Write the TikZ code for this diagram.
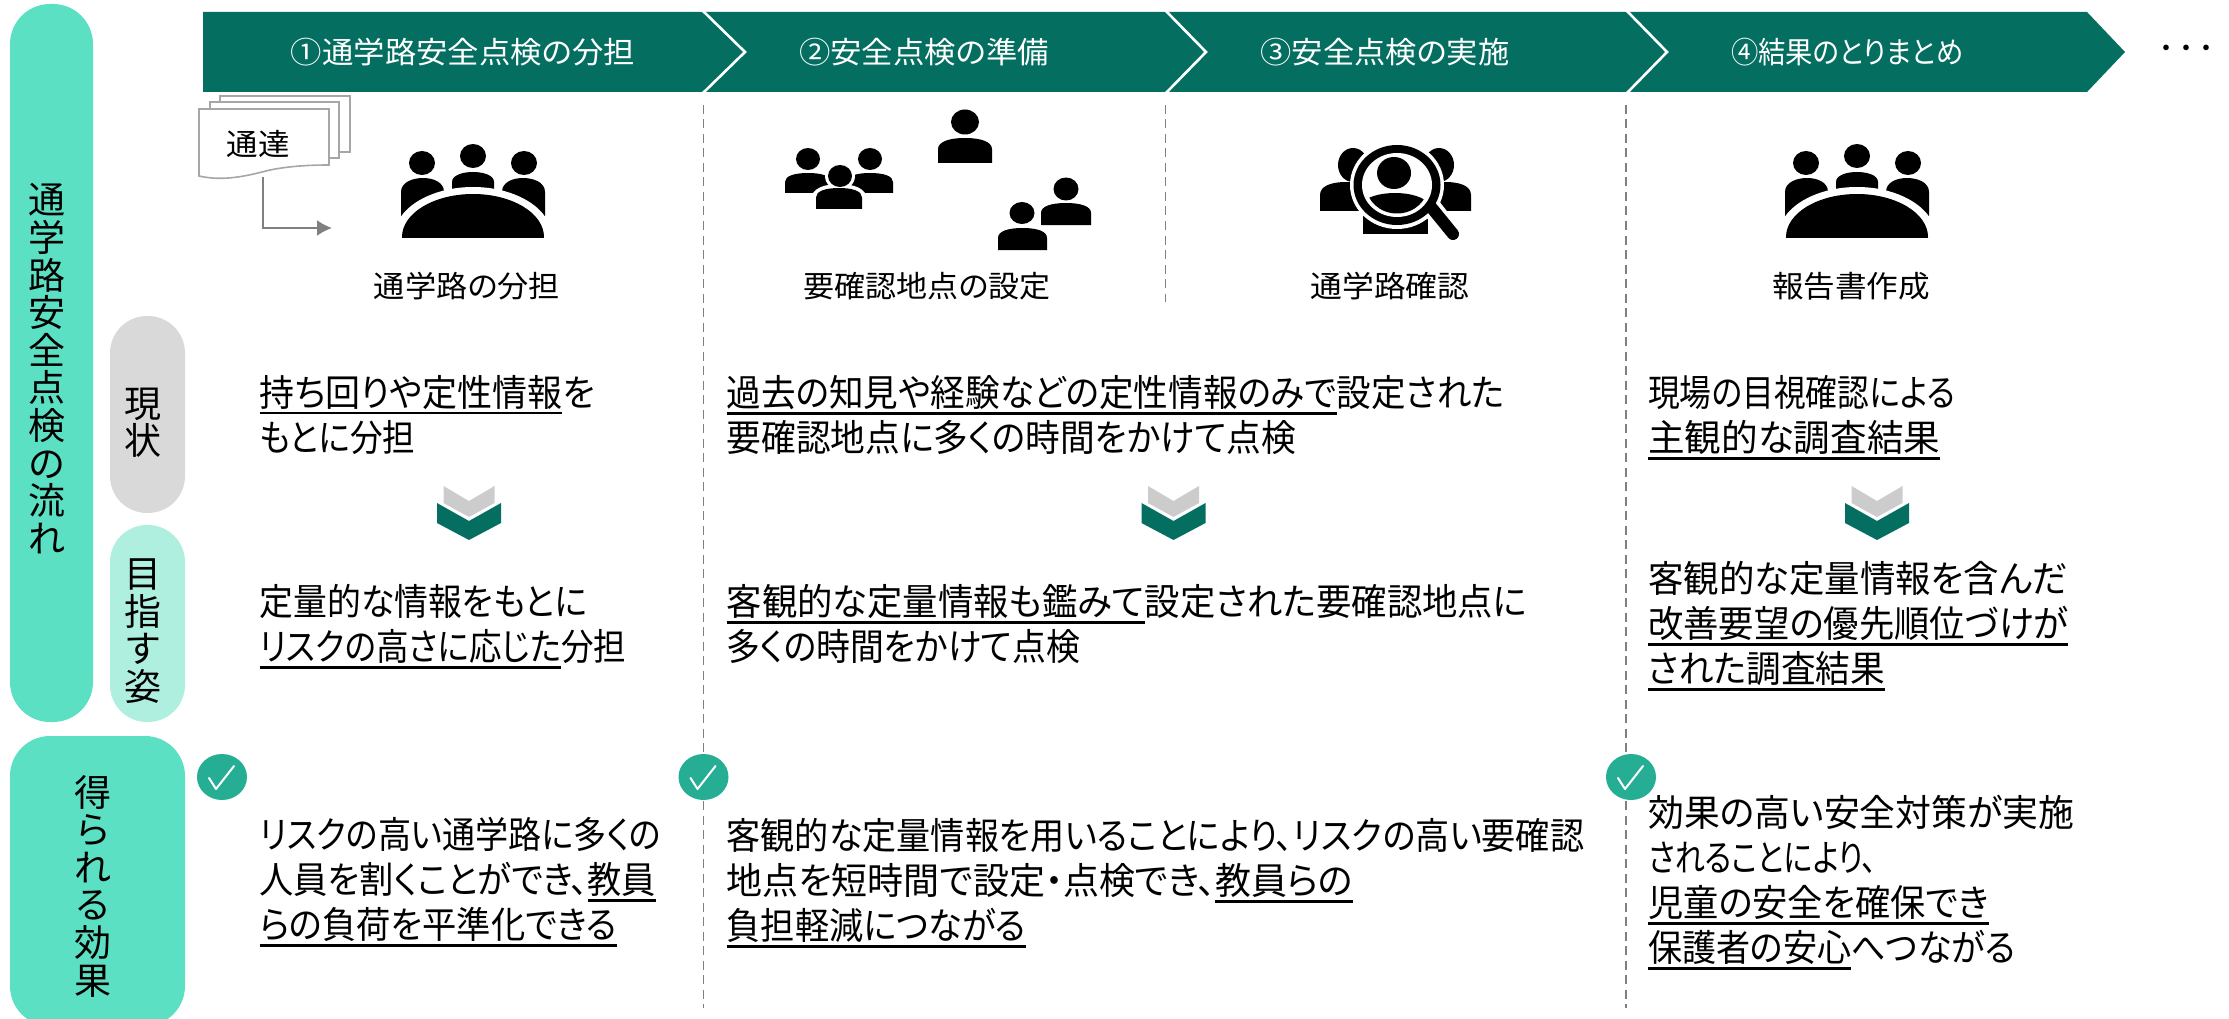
\documentclass[tikz,border=0pt]{standalone}
\usepackage{fontspec}
\usepackage{graphicx}
\usetikzlibrary{arrows.meta,shapes.geometric}
\setmainfont{Noto Sans CJK JP}[RawFeature=+palt]
\newfontfamily\jpfull{Noto Sans CJK JP}
\definecolor{bannergreen}{HTML}{046E60}
\definecolor{pillmint}{HTML}{5CE0C3}
\definecolor{pillpale}{HTML}{AEEFE0}
\definecolor{pillgray}{HTML}{D9D9D9}
\definecolor{checkgreen}{HTML}{26AE95}
\definecolor{chevgray}{HTML}{CCCCCC}
\definecolor{docgray}{HTML}{A6A6A6}
\definecolor{sepgray}{HTML}{808080}
\newsavebox{\ulbox}
\newcommand{\noskiplimit}{\lineskiplimit=-100pt\relax}
% underlined run
\newcommand{\ulx}[1]{\sbox{\ulbox}{#1}\rlap{\rule[-8pt]{\wd\ulbox}{2.2pt}}\usebox{\ulbox}}
% one line of text stretched to a given width
\newcommand{\fl}[2]{\resizebox{#1pt}{\height}{\rule[-10pt]{0pt}{38pt}#2}}
\newcommand{\vc}[1]{\rule[-4pt]{0pt}{36pt}#1}
\tikzset{
  bodytext/.style={anchor=west,inner sep=0pt,align=left,text=black,font=\fontsize{37}{45}\selectfont\noskiplimit},
  captext/.style={inner sep=0pt,text=black,font=\fontsize{30}{36}\selectfont},
  bantext/.style={inner sep=0pt,text=white,font=\fontsize{30}{36}\selectfont},
  stacktext/.style={inner sep=0pt,align=center,text=black,font=\fontsize{37}{37.6}\selectfont\noskiplimit},
  sep/.style={draw=sepgray,line width=1.6pt,dash pattern=on 9pt off 5.5pt},
  pill/.style={inner sep=0pt,minimum width=#1,fill=pillmint,rounded corners=40pt},
  docsheet/.style={draw=docgray,fill=white,line width=1.6pt},
  icon/.style={fill=black,draw=none},
  checkdisc/.style={fill=checkgreen,draw=none,inner sep=0pt,shape=ellipse,minimum width=50pt,minimum height=46pt},
  checkmark/.style={draw=white,line width=2pt,line cap=round,line join=round},
}
% person: head cx cy rx ry ; body L R T B
\newcommand{\person}[8]{%
  \fill[icon] (#1,#2) ellipse [x radius=#3,y radius=#4];
  \fill[icon] (#5,#8) -- (#5,{#7+0.45*(#8-#7)}) .. controls (#5,{#7+0.15*(#8-#7)}) and ({#5+0.2*(#6-#5)},#7) .. ({0.5*(#5+#6)},#7) .. controls ({#6-0.2*(#6-#5)},#7) and (#6,{#7+0.15*(#8-#7)}) .. (#6,{#7+0.45*(#8-#7)}) -- (#6,#8) -- cycle;
}
\newcommand{\meeting}[1]{%
 \begin{scope}[shift={(#1,0)}]
  \fill[icon] (-51,163) ellipse [x radius=13,y radius=12];
  \fill[icon] (0,156) ellipse [x radius=13,y radius=12];
  \fill[icon] (51,163) ellipse [x radius=13,y radius=12];
  \fill[icon] (-72,216) -- (-72,192) .. controls (-72,182) and (-60,178) .. (-50,178) .. controls (-40,178) and (-29,182) .. (-29,192) -- (-29,216) -- cycle;
  \fill[icon] (72,216) -- (72,192) .. controls (72,182) and (60,178) .. (50,178) .. controls (40,178) and (29,182) .. (29,192) -- (29,216) -- cycle;
  \fill[icon] (-21,192) -- (-21,182) .. controls (-21,175) and (-10,172) .. (0,172) .. controls (10,172) and (21,175) .. (21,182) -- (21,192) -- cycle;
  \fill[white] (0,237) ellipse [x radius=79,y radius=50];
  \begin{scope}
   \clip (-75,185) rectangle (75,237);
   \fill[icon] (0,237) ellipse [x radius=71,y radius=43];
  \end{scope}
 \end{scope}}
\newcommand{\chev}[1]{%
 \begin{scope}[shift={(#1,0)}]
  \fill[chevgray] (-25.5,486) -- (0,501) -- (25.5,486) -- (25.5,503) -- (0,517) -- (-25.5,503) -- cycle;
  \fill[bannergreen] (-32,503) -- (0,521) -- (32,503) -- (32,523) -- (0,540) -- (-32,523) -- cycle;
 \end{scope}}
\newcommand{\chk}[2]{%
  \begin{scope}[shift={(#2,777)}]
   \node[checkdisc] (#1) at (0,0) {};
   \draw[checkmark] (-13,1) -- (-6,12) -- (12,-11);
  \end{scope}}
\begin{document}
\begin{tikzpicture}[x=1pt,y=-1pt]
\useasboundingbox (0,0) rectangle (2229,1019);
% left pills
\node[pill=83pt,minimum height=718pt] (flowpill) at (51.5,363) {};
\node[pill=75pt,minimum height=197pt,fill=pillgray,rounded corners=37pt] (nowpill) at (147.5,414.5) {};
\node[pill=75pt,minimum height=197pt,fill=pillpale,rounded corners=37pt] (goalpill) at (147.5,623.5) {};
\fill[pillmint,rounded corners=40pt] (10,736) rectangle (185,1026);
\node[stacktext] (flowlabel) at (47,369) {\vc{通}\\\vc{学}\\\vc{路}\\\vc{安}\\\vc{全}\\\vc{点}\\\vc{検}\\\vc{の}\\\vc{流}\\\vc{れ}};
\node[stacktext] (nowlabel) at (143,422) {\vc{現}\\\vc{状}};
\node[stacktext] (goallabel) at (143,630) {\vc{目}\\\vc{指}\\\vc{す}\\\vc{姿}};
\node[stacktext] (effectlabel) at (93,886) {\vc{得}\\\vc{ら}\\\vc{れ}\\\vc{る}\\\vc{効}\\\vc{果}};
% banner
\fill[bannergreen] (203,12) -- (2087,12) -- (2125,52) -- (2087,92) -- (203,92) -- cycle;
\draw[white,line width=2.6pt] (702,10) -- (745,52) -- (702,94);
\draw[white,line width=2.6pt] (1165,10) -- (1206,52) -- (1165,94);
\draw[white,line width=2.6pt] (1626,10) -- (1667,52) -- (1626,94);
\node[bantext] (step1) at (463,52) {\resizebox{344pt}{\height}{①通学路安全点検の分担}};
\node[bantext] (step2) at (924,52) {\resizebox{250pt}{\height}{②安全点検の準備}};
\node[bantext] (step3) at (1385,52) {\resizebox{249pt}{\height}{③安全点検の実施}};
\node[bantext] (step4) at (1847,52) {\resizebox{232pt}{\height}{④結果のとりまとめ}};
\node[inner sep=0pt,text=black,font=\jpfull\fontsize{20}{24}\selectfont\bfseries] (dots) at (2186,50) {・・・};
% separators
\draw[sep] (703.5,105) -- (703.5,1008);
\draw[sep] (1165.5,105) -- (1165.5,302);
\draw[sep] (1626,105) -- (1626,1008);
% document stack
\draw[docsheet] (220,96) rectangle (350,152);
\draw[docsheet] (210,102) rectangle (339,158);
\draw[docsheet] (199,109) -- (329,109) -- (329,165) .. controls (310,165) and (290,166) .. (270,170) .. controls (250,175) and (225,182) .. (199,176) -- cycle;
\node[captext] (tsutatsu) at (258,144) {\resizebox{63pt}{\height}{通達}};
\coordinate (docout) at (263,177);
\coordinate (docin) at (332,228);
\draw[sepgray,line width=2pt,-{Latex[length=15pt,width=16pt]}] (docout) |- (docin);
% icons
\meeting{473}
\meeting{1857}
\person{808}{159}{12}{11}{785}{831}{173}{193}
\person{870}{159}{12}{11}{847}{893}{173}{193}
\fill[white] (840,176) ellipse [x radius=15,y radius=14];
\fill[white] (811,209) -- (811,200) .. controls (811,188) and (825,184) .. (839,184) .. controls (853,184) and (867,188) .. (867,200) -- (867,209) -- cycle;
\person{840}{176}{12}{11}{816}{862}{188}{209}
\person{965}{122}{14}{12.5}{938}{992}{138}{163}
\person{1066}{189}{12.5}{11.5}{1041}{1091}{203}{225}
\fill[white] (1022,213) ellipse [x radius=15,y radius=14];
\person{1022}{213}{12.5}{11}{998}{1047}{228}{250}
% magnifier icon
\person{1353}{165}{15}{17}{1320}{1372}{182}{211}
\person{1439}{165}{15}{17}{1420}{1471}{182}{211}
\fill[icon] (1363,234) -- (1363,210) -- (1428,210) -- (1428,234) -- cycle;
\fill[white] (1397,185) ellipse [x radius=47,y radius=44];
\draw[white,line width=20pt,line cap=round] (1431,207) -- (1452,234);
\fill[icon] (1397,185) ellipse [x radius=43.5,y radius=40];
\draw[draw=black,line width=12pt,line cap=round] (1431,207) -- (1453,234);
\fill[white] (1397,185) ellipse [x radius=35,y radius=32];
\fill[icon] (1394,173) ellipse [x radius=17,y radius=16];
\begin{scope}
 \clip (1397,185) ellipse [x radius=31,y radius=28.5];
 \fill[icon] (1360,225) -- (1360,205) .. controls (1365,197) and (1380,193) .. (1395,193) .. controls (1410,193) and (1425,197) .. (1430,205) -- (1430,225) -- cycle;
\end{scope}
% captions
\node[captext] (cap1) at (467,286) {\resizebox{186pt}{\height}{通学路の分担}};
\node[captext] (cap2) at (927,286) {\resizebox{247pt}{\height}{要確認地点の設定}};
\node[captext] (cap3) at (1390,286) {\resizebox{159pt}{\height}{通学路確認}};
\node[captext] (cap4) at (1851,286) {\resizebox{158pt}{\height}{報告書作成}};
% chevrons
\chev{469}
\chev{1173.5}
\chev{1877}
% checks
\chk{chk1}{222}
\chk{chk2}{703.5}
\chk{chk3}{1631}
% body text
\node[bodytext] (now1) at (259.5,418) {\fl{335}{\ulx{持ち回りや定性情報}を}\\\fl{155.5}{もとに分担}};
\node[bodytext] (goal1) at (259.5,627.5) {\fl{327.5}{定量的な情報をもとに}\\\fl{366.5}{\ulx{リスクの高さに応じた}分担}};
\node[bodytext] (eff1) at (259.5,883) {\fl{401.5}{リスクの高い通学路に多くの}\\\fl{396.5}{人員を割くことができ、\ulx{教員}}\\\fl{357.5}{\ulx{らの負荷を平準化できる}}};
\node[bodytext] (now2) at (726.5,418.5) {\fl{777.5}{\ulx{過去の知見や経験などの定性情報のみで}設定された}\\\fl{569.5}{要確認地点に多くの時間をかけて点検}};
\node[bodytext] (goal2) at (726.5,627.5) {\fl{800.5}{\ulx{客観的な定量情報も鑑みて}設定された要確認地点に}\\\fl{353.5}{多くの時間をかけて点検}};
\node[bodytext] (eff2) at (726.5,884) {\fl{857.5}{客観的な定量情報を用いることにより、リスクの高い要確認}\\\fl{626.5}{地点を短時間で設定・点検でき、\ulx{教員らの}}\\\fl{299.5}{\ulx{負担軽減につながる}}};
\node[bodytext] (now3) at (1648,418.5) {\fl{307}{現場の目視確認による}\\\fl{292}{\ulx{主観的な調査結果}}};
\node[bodytext] (goal3) at (1648,627) {\fl{420}{客観的な定量情報を含んだ}\\\fl{420}{\ulx{改善要望の優先順位づけが}}\\\fl{237}{\ulx{された調査結果}}};
\node[bodytext] (eff3) at (1648,883.5) {\fl{426}{効果の高い安全対策が実施}\\\fl{229}{されることにより、}\\\fl{341}{\ulx{児童の安全を確保でき}}\\\fl{367}{\ulx{保護者の安心}へつながる}};
\end{tikzpicture}
\end{document}
